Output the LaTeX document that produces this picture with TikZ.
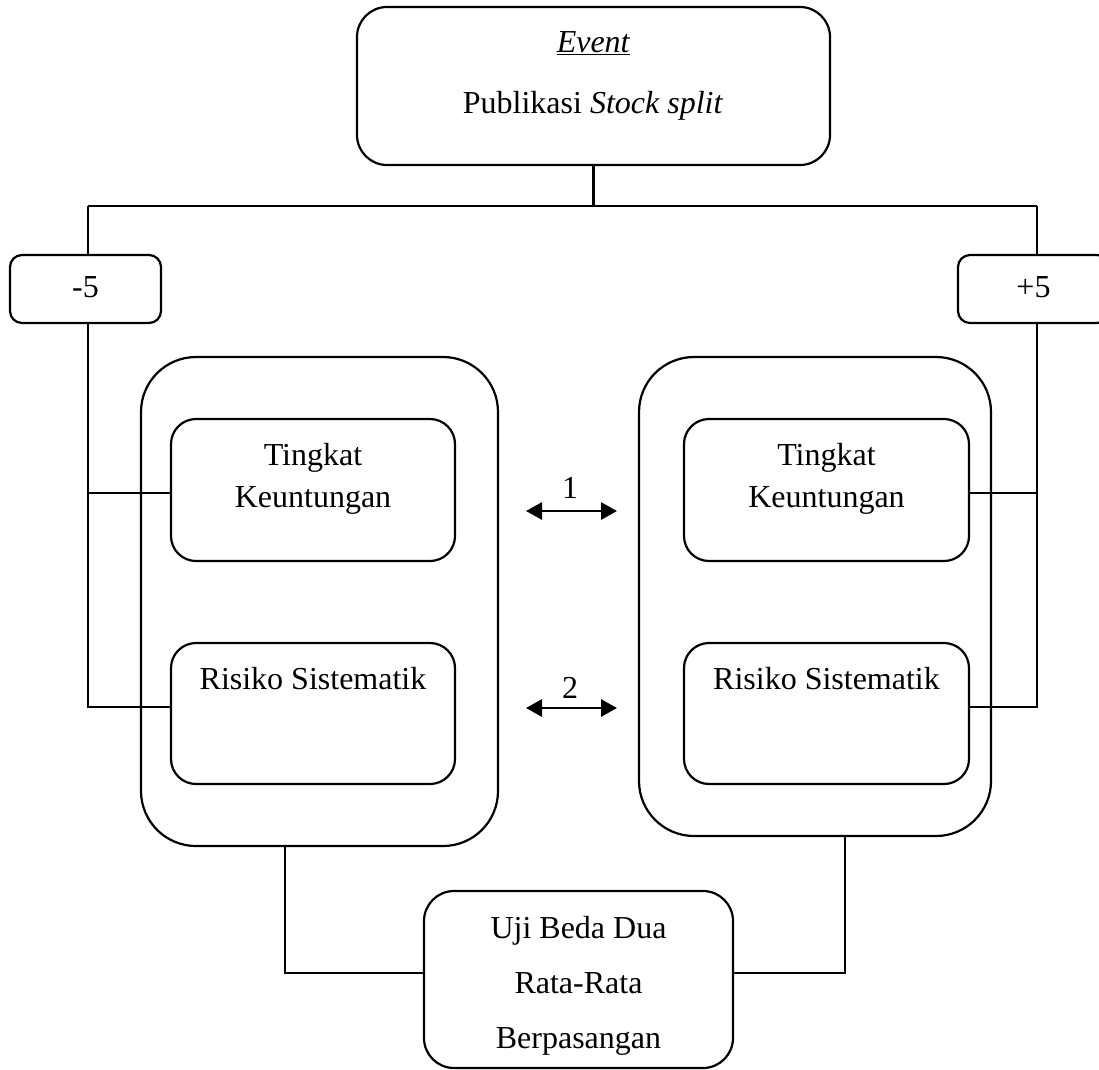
\documentclass[tikz,border=0pt]{standalone}
\usepackage{fontspec}
\setmainfont{Liberation Serif}
\usetikzlibrary{arrows.meta}
\begin{document}
\begin{tikzpicture}[x=1pt,y=-1pt,line width=2.2pt,
  rbox/.style={draw,rectangle,rounded corners=#1,inner sep=0pt},
  txt/.style={anchor=base,inner sep=0pt,font=\fontsize{32}{38}\selectfont},
  dbl/.style={{Triangle[length=16pt,width=17pt]}-{Triangle[length=16pt,width=17pt]},line width=2.8pt}]
\useasboundingbox (0,0) rectangle (1099,1069);
\clip (0,0) rectangle (1099,1069);
% boxes
\node[rbox=30pt,minimum width=473pt,minimum height=158pt] (top) at (593.5,86) {};
\node[rbox=12pt,minimum width=151pt,minimum height=68pt] (minus) at (85.5,289) {};
\node[rbox=12pt,minimum width=151pt,minimum height=68pt] (plus) at (1033.5,289) {};
\node[rbox=55pt,minimum width=357pt,minimum height=489pt] (lcont) at (319.5,601.5) {};
\node[rbox=55pt,minimum width=352pt,minimum height=479pt] (rcont) at (815,596.5) {};
\node[rbox=25pt,minimum width=284pt,minimum height=142pt] (ltk) at (313,490) {};
\node[rbox=25pt,minimum width=284pt,minimum height=141pt] (lrs) at (313,713.5) {};
\node[rbox=25pt,minimum width=285pt,minimum height=142pt] (rtk) at (826.5,490) {};
\node[rbox=25pt,minimum width=285pt,minimum height=141pt] (rrs) at (826.5,713.5) {};
\node[rbox=30pt,minimum width=309pt,minimum height=177pt] (bot) at (578.5,979.5) {};
% texts
\node[txt] (tev) at (593.5,52) {\underline{\textit{Event}}};
\node[txt] (tpub) at (593,113) {Publikasi \textit{Stock split}};
\node[txt] (tminus) at (85.5,297) {-5};
\node[txt] (tplus) at (1033.5,297) {+5};
\node[txt] (ltk1) at (313,465) {Tingkat};
\node[txt] (ltk2) at (313,507) {Keuntungan};
\node[txt] (lrs1) at (313,689) {Risiko Sistematik};
\node[txt] (rtk1) at (826.5,465) {Tingkat};
\node[txt] (rtk2) at (826.5,507) {Keuntungan};
\node[txt] (rrs1) at (826.5,689) {Risiko Sistematik};
\node[txt] (b1) at (578.5,938) {Uji Beda Dua};
\node[txt] (b2) at (578.5,993) {Rata-Rata};
\node[txt] (b3) at (578.5,1048) {Berpasangan};
\node[txt] (n1) at (570,498) {1};
\node[txt] (n2) at (570,698) {2};
% connectors
\coordinate (busL) at (88,206);
\coordinate (busR) at (1037,206);
\draw (top.south) -- (top.south |- busL);
\draw (busL) -- (busR);
\draw (busL) -- (busL |- minus.north);
\draw (busR) -- (busR |- plus.north);
\coordinate (lA) at (88,493);
\coordinate (lB) at (88,707);
\coordinate (rA) at (1037,493);
\coordinate (rB) at (1037,707);
\draw (busL |- minus.south) -- (lB) -- (lB -| lrs.west);
\draw (lA) -- (lA -| ltk.west);
\draw (busR |- plus.south) -- (rB) -- (rB -| rrs.east);
\draw (rA) -- (rA -| rtk.east);
\coordinate (bl) at (285,973);
\coordinate (br) at (845,973);
\draw (bl |- lcont.south) -- (bl) -- (bl -| bot.west);
\draw (br |- rcont.south) -- (br) -- (br -| bot.east);
\coordinate (a1s) at (526,511);
\coordinate (a1e) at (617,511);
\coordinate (a2s) at (526,708);
\coordinate (a2e) at (617,708);
\draw[dbl] (a1s) -- (a1e);
\draw[dbl] (a2s) -- (a2e);
\end{tikzpicture}
\end{document}
